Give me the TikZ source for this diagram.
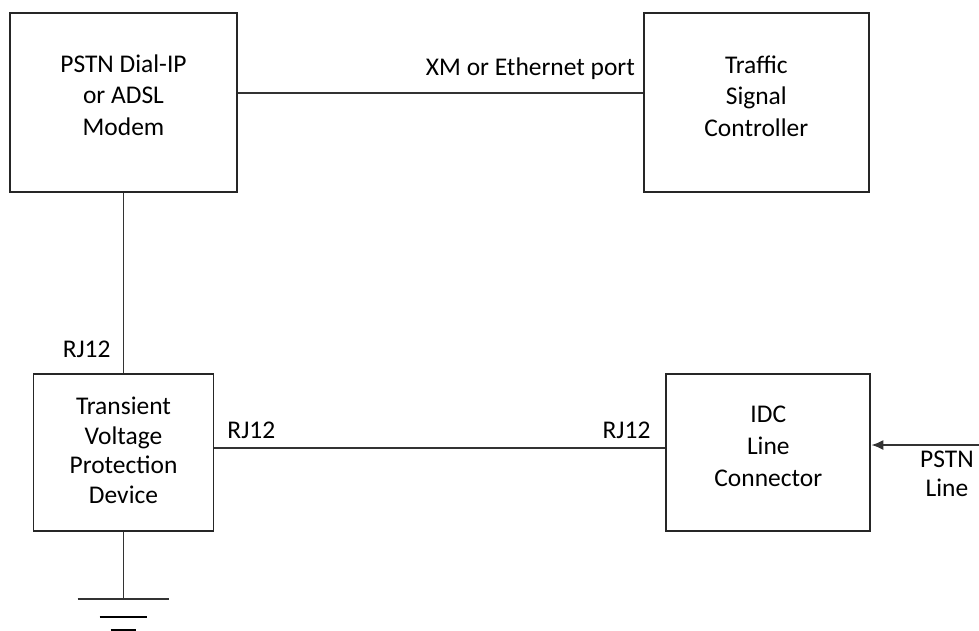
\documentclass[tikz,border=0pt]{standalone}
\usepackage{fontspec}
\setmainfont{Carlito}
\usetikzlibrary{positioning, arrows.meta}
\tikzset{%
  every node/.style={
    font=\fontsize{14.5pt}{18pt}\selectfont},
  block/.style={        % the boxes
    draw=black!85,
    line width=1.1pt,
    inner sep=0pt},
  blocktext/.style={    % text set a little above the box centre
    align=center,
    yshift=#1},
  blocktext/.default=0.14cm,
  wire/.style={
    draw=black!80,
    line width=1.1pt},
  port/.style={         % connector names beside the wires
    inner sep=0pt}
}

\begin{document}
\begin{tikzpicture}[x=0.02cm, y=-0.02cm]
  \useasboundingbox (0,0) rectangle (979,630);

  \node[block, minimum width=4.54cm, minimum height=3.58cm,
        label={[blocktext=0.15cm]center:PSTN Dial-IP\\ or ADSL\\ Modem}] (modem) at (123.5,102.5) {};
  \node[block, minimum width=4.5cm, minimum height=3.58cm, right=8.1cm of modem,
        label={[blocktext=0.13cm]center:Traffic\\ Signal\\ Controller}] (tsc) {};
  \node[block, minimum width=3.6cm, minimum height=3.14cm, below=3.6cm of modem,
        label={[blocktext=0.04cm, font=\fontsize{14.5pt}{16.8pt}\selectfont]center:Transient\\ Voltage\\ Protection\\ Device}] (tvpd) {};
  \node[block, minimum width=4.08cm, minimum height=3.14cm, right=9.02cm of tvpd,
        label={[blocktext=0.12cm]center:IDC\\ Line\\ Connector}] (idc) {};

  \coordinate[below=1.34cm of tvpd.south] (gnd);
  \coordinate (pstn) at (979,445);

  \draw[wire] ([yshift=0.19cm]modem.east) -- ([yshift=0.19cm]modem.east -| tsc.west)
        node[port, anchor=base east, xshift=-0.14cm, yshift=0.36cm] {XM or Ethernet port};
  \draw[wire] (modem.south) -- (tvpd.north)
        node[port, anchor=base east, xshift=-0.24cm, yshift=0.3cm] {RJ12};
  \draw[wire] ([yshift=0.09cm]tvpd.east) -- ([yshift=0.09cm]tvpd.east -| idc.west)
        node[port, pos=0, anchor=base west, xshift=0.24cm, yshift=0.18cm] {RJ12}
        node[port, pos=1, anchor=base east, xshift=-0.28cm, yshift=0.18cm] {RJ12};
  \draw[wire, -{Latex[length=0.24cm, width=0.2cm]}] (pstn) -- (pstn -| idc.east)
        node[port, pos=0, anchor=north, xshift=-0.64cm, yshift=-0.1cm, align=center,
             font=\fontsize{14.5pt}{16.5pt}\selectfont]
        {PSTN\\ Line};

  % earth
  \draw[wire] (tvpd.south) -- (gnd);
  \draw[wire] ([xshift=-0.92cm]gnd) -- ([xshift=0.92cm]gnd);
  \draw[wire, draw=black] ([xshift=-0.48cm, yshift=-0.36cm]gnd) -- ([xshift=0.48cm, yshift=-0.36cm]gnd);
  \draw[wire, draw=black] ([xshift=-0.26cm, yshift=-0.62cm]gnd) -- ([xshift=0.26cm, yshift=-0.62cm]gnd);

\end{tikzpicture}
\end{document}
